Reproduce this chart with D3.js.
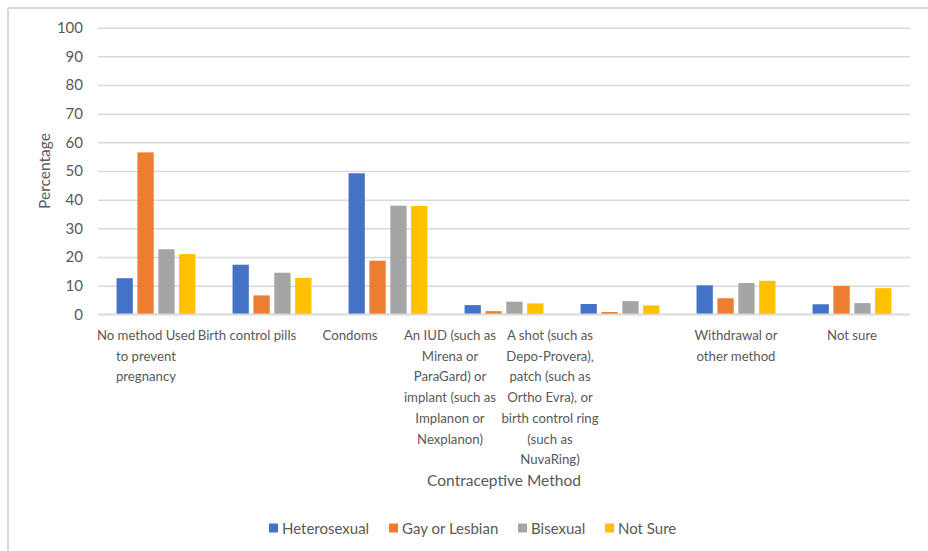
<!DOCTYPE html>
<html>
<head>
<meta charset="utf-8">
<script src="https://cdn.jsdelivr.net/npm/d3@7"></script>
<style>
  html, body { margin: 0; padding: 0; background: #fff; }
  svg { display: block; font-family: Lato, "Open Sans", sans-serif; }
</style>
</head>
<body>
<svg id="chart" width="928" height="551"></svg>
<script>
// Contraceptive method by sexual identity (percent of respondents)
const categories = [
  "No method Used to prevent pregnancy",
  "Birth control pills",
  "Condoms",
  "An IUD (such as Mirena or ParaGard) or implant (such as Implanon or Nexplanon)",
  "A shot (such as Depo-Provera), patch (such as Ortho Evra), or birth control ring (such as NuvaRing)",
  "Withdrawal or other method",
  "Not sure"
];
// Wrapped tick label lines for each category
const categoryLines = [
  ["No method Used", "to prevent", "pregnancy"],
  ["Birth control pills"],
  ["Condoms"],
  ["An IUD (such as", "Mirena or", "ParaGard) or", "implant (such as", "Implanon or", "Nexplanon)"],
  ["A shot (such as", "Depo-Provera),", "patch (such as", "Ortho Evra), or", "birth control ring", "(such as", "NuvaRing)"],
  ["Withdrawal or", "other method"],
  ["Not sure"]
];
const seriesNames = ["Heterosexual", "Gay or Lesbian", "Bisexual", "Not Sure"];
const heterosexual = [12.6, 17.3, 49.2, 3.2, 3.6, 10.1, 3.5];
const gayOrLesbian = [56.5, 6.6, 18.7, 1.1, 0.8, 5.6, 9.9];
const bisexual     = [22.7, 14.5, 37.9, 4.4, 4.6, 10.9, 3.9];
const notSure      = [21.0, 12.7, 37.8, 3.8, 3.1, 11.7, 9.1];
const yTicks = [0, 10, 20, 30, 40, 50, 60, 70, 80, 90, 100];

const seriesValues = [heterosexual, gayOrLesbian, bisexual, notSure];
const colors = ["#4472C4", "#ED7D31", "#A5A5A5", "#FFC000"];
const textColor = "#595959";
const gridColor = "#d9d9d9";

// Horizontal shift applied to wrapped category labels (px)
const labelNudge = [-10, -25, -38, -54, -70, 0, 0];

const svg = d3.select("#chart");

// chart frame (top and left edges)
svg.append("line").attr("x1", 8).attr("x2", 928).attr("y1", 8).attr("y2", 8)
  .attr("stroke", gridColor).attr("stroke-width", 2);
svg.append("line").attr("x1", 8).attr("x2", 8).attr("y1", 8).attr("y2", 551)
  .attr("stroke", gridColor).attr("stroke-width", 2);

const plot = { left: 98, right: 910, top: 27.7, bottom: 314.3 };

const x0 = d3.scaleBand().domain(categories).range([plot.left, plot.right]).padding(0);
const x1 = d3.scaleBand().domain(seriesNames)
  .range([x0.bandwidth() * 0.16, x0.bandwidth() * 0.84]).paddingInner(0.22);
const y = d3.scaleLinear().domain([0, 100]).range([plot.bottom, plot.top]);

// gridlines + y tick labels
const yAxis = d3.axisLeft(y).tickValues(yTicks).tickSize(-(plot.right - plot.left)).tickPadding(15);
const gy = svg.append("g").attr("transform", `translate(${plot.left},0)`).call(yAxis);
gy.select(".domain").remove();
gy.selectAll(".tick line").attr("stroke", gridColor).attr("stroke-width", 1.5);
gy.selectAll(".tick text").attr("fill", textColor).attr("font-size", 15)
  .attr("font-family", "Lato, sans-serif");

// bars
const groups = svg.append("g").selectAll("g")
  .data(categories)
  .join("g")
  .attr("transform", d => `translate(${x0(d)},0)`);

groups.selectAll("rect")
  .data((c, i) => seriesNames.map((s, j) => ({ s, v: seriesValues[j][i], j })))
  .join("rect")
  .attr("x", d => x1(d.s))
  .attr("width", x1.bandwidth())
  .attr("y", d => y(d.v))
  .attr("height", d => y(0) - y(d.v))
  .attr("fill", d => colors[d.j]);

// baseline
svg.append("line").attr("x1", plot.left).attr("x2", plot.right)
  .attr("y1", y(0)).attr("y2", y(0)).attr("stroke", gridColor).attr("stroke-width", 1.5);

// category labels
const xl = svg.append("g");
categories.forEach((c, i) => {
  const cx = x0(c) + x0.bandwidth() / 2 + labelNudge[i];
  const t = xl.append("text")
    .attr("text-anchor", "middle")
    .attr("fill", textColor)
    .attr("font-size", 13.2);
  categoryLines[i].forEach((line, k) => {
    t.append("tspan").attr("x", cx).attr("y", 340 + k * 20.7).text(line);
  });
});

// axis titles
svg.append("text")
  .attr("x", (plot.left + plot.right) / 2).attr("y", 486)
  .attr("text-anchor", "middle").attr("fill", textColor).attr("font-size", 15.5)
  .text("Contraceptive Method");

svg.append("text")
  .attr("transform", `translate(50,171) rotate(-90)`)
  .attr("text-anchor", "middle").attr("fill", textColor).attr("font-size", 15.5)
  .text("Percentage");

// legend
const legendX = [269, 389, 518, 605];
const legend = svg.append("g");
seriesNames.forEach((s, j) => {
  legend.append("rect").attr("x", legendX[j]).attr("y", 523.5)
    .attr("width", 9).attr("height", 9).attr("fill", colors[j]);
  legend.append("text").attr("x", legendX[j] + 13).attr("y", 533.5)
    .attr("fill", textColor).attr("font-size", 15).text(s);
});
</script>
</body>
</html>
